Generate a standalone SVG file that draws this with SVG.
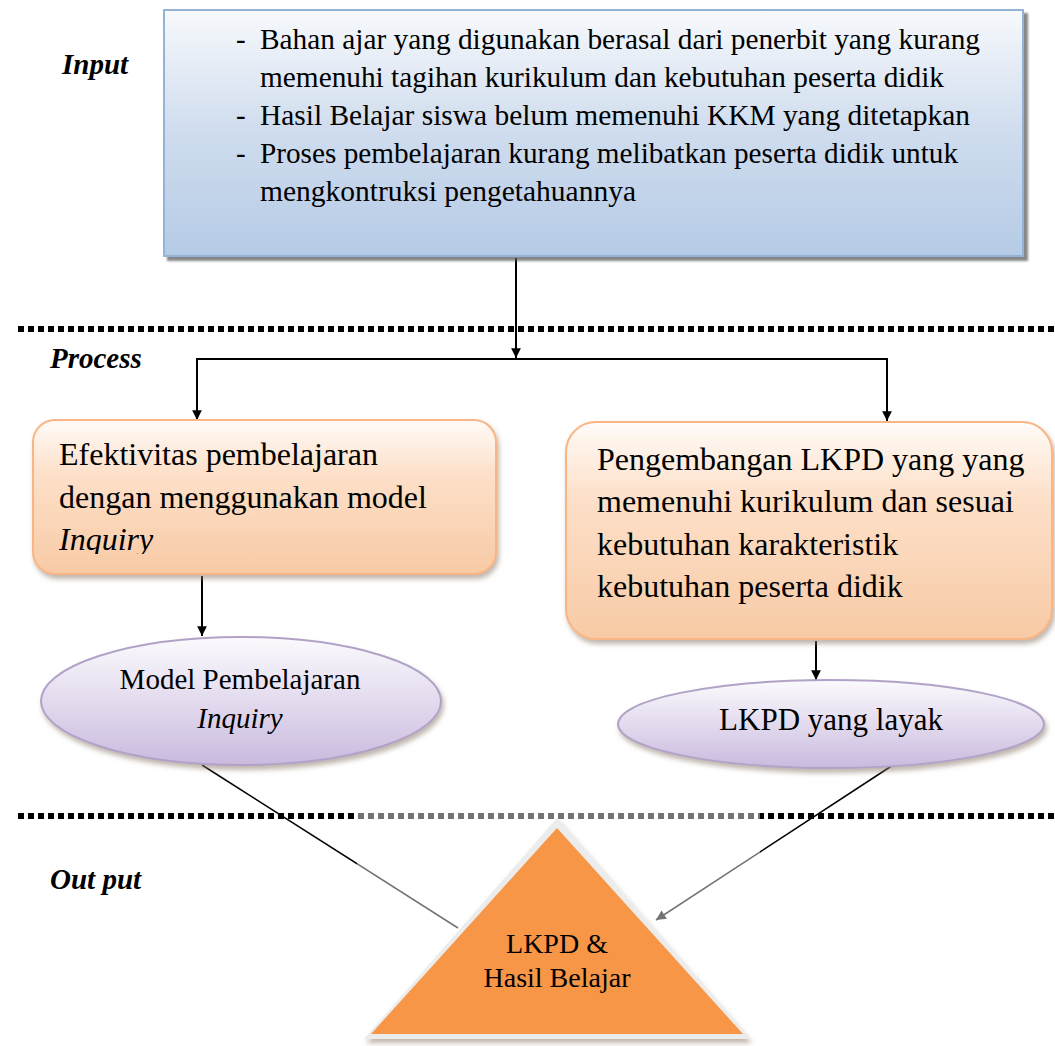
<svg xmlns="http://www.w3.org/2000/svg" width="1055" height="1046" viewBox="0 0 1055 1046">
<defs>
<style>
.t{font-family:"Liberation Serif","Times New Roman",serif;fill:#000}
.lbl{font-family:"Liberation Serif","Times New Roman",serif;font-weight:bold;font-style:italic;font-size:29px}
.c{stroke:#000;stroke-width:2;fill:none}
.dash{stroke:#000;stroke-width:6;stroke-dasharray:6 4}
</style>
<linearGradient id="gBlue" x1="0" y1="0" x2="0" y2="1">
<stop offset="0" stop-color="#f7f9fc"/>
<stop offset="0.5" stop-color="#cfdcee"/>
<stop offset="1" stop-color="#b5cbe6"/>
</linearGradient>
<linearGradient id="gOr" x1="0" y1="0" x2="0" y2="1">
<stop offset="0" stop-color="#fffbf8"/>
<stop offset="0.35" stop-color="#fde0c9"/>
<stop offset="1" stop-color="#f8caa5"/>
</linearGradient>
<linearGradient id="gPu" x1="0" y1="0" x2="0" y2="1">
<stop offset="0" stop-color="#fbfafd"/>
<stop offset="0.5" stop-color="#e3dbee"/>
<stop offset="1" stop-color="#c9badf"/>
</linearGradient>
<filter id="sh" x="-10%" y="-10%" width="120%" height="130%">
<feDropShadow dx="2" dy="4" stdDeviation="2.5" flood-color="#8a7a6a" flood-opacity="0.55"/>
</filter>
<filter id="shb" x="-10%" y="-10%" width="120%" height="130%">
<feDropShadow dx="4" dy="4" stdDeviation="1" flood-color="#555" flood-opacity="0.7"/>
</filter>
<marker id="ah" viewBox="0 0 10 10" refX="10" refY="5" markerWidth="7" markerHeight="7" markerUnits="userSpaceOnUse" orient="auto" overflow="visible">
<path d="M0,0 L10,5 L0,10 z" fill="#000" transform="scale(1.4)" transform-origin="10 5"/>
</marker>
<clipPath id="clipL"><rect x="33" y="420" width="464" height="134"/></clipPath>
</defs>

<g id="separators">
<line class="dash" x1="18" y1="329" x2="1055" y2="329"/>
<line class="dash" x1="18" y1="816" x2="1055" y2="816"/>
</g>

<g id="labels">
<text class="lbl" x="62" y="74">Input</text>
<text class="lbl" x="50" y="368">Process</text>
<text class="lbl" x="50" y="889">Out put</text>
</g>

<g id="connectors">
<line class="c" x1="516" y1="258" x2="516" y2="358" marker-end="url(#ah)"/>
<polyline class="c" points="197,420 197,359 887,359 887,421" marker-end="url(#ah)"/>
<line class="c" x1="197" y1="362" x2="197" y2="420" marker-end="url(#ah)"/>
<line class="c" x1="202" y1="576" x2="202" y2="636" marker-end="url(#ah)"/>
<line class="c" x1="816" y1="641" x2="816" y2="680" marker-end="url(#ah)"/>
<line stroke="#000" stroke-width="1.5" x1="202" y1="765" x2="458" y2="928"/>
<line stroke="#000" stroke-width="1.5" x1="893" y1="765" x2="656" y2="920" marker-end="url(#ah)"/>
</g>

<g id="input">
<rect x="164" y="10" width="859" height="246" fill="url(#gBlue)" stroke="#95b3d7" stroke-width="2" filter="url(#shb)"/>
<g class="t" font-size="29">
<text x="236" y="49">-</text>
<text x="260" y="49" textLength="720" lengthAdjust="spacingAndGlyphs">Bahan ajar yang digunakan berasal dari penerbit yang kurang</text>
<text x="260" y="87" textLength="684" lengthAdjust="spacingAndGlyphs">memenuhi tagihan kurikulum dan kebutuhan peserta didik</text>
<text x="236" y="125">-</text>
<text x="260" y="125" textLength="710" lengthAdjust="spacingAndGlyphs">Hasil Belajar siswa belum memenuhi KKM yang ditetapkan</text>
<text x="236" y="163">-</text>
<text x="260" y="163" textLength="698" lengthAdjust="spacingAndGlyphs">Proses pembelajaran kurang melibatkan peserta didik untuk</text>
<text x="260" y="201" textLength="376" lengthAdjust="spacingAndGlyphs">mengkontruksi pengetahuannya</text>
</g>
</g>

<g id="efektivitas">
<rect x="33" y="420" width="463" height="154" rx="22" fill="url(#gOr)" stroke="#fab584" stroke-width="2" filter="url(#sh)"/>
<g class="t" font-size="32">
<text x="59" y="465">Efektivitas pembelajaran</text>
<text x="59" y="508">dengan menggunakan model</text>
<text x="59" y="550" font-style="italic" clip-path="url(#clipL)">Inquiry</text>
</g>
</g>

<g id="pengembangan">
<rect x="566" y="422" width="486" height="217" rx="30" fill="url(#gOr)" stroke="#fab584" stroke-width="2" filter="url(#sh)"/>
<g class="t" font-size="32">
<text x="597" y="470">Pengembangan LKPD yang yang</text>
<text x="597" y="512">memenuhi kurikulum dan sesuai</text>
<text x="597" y="555">kebutuhan karakteristik</text>
<text x="597" y="597">kebutuhan peserta didik</text>
</g>
</g>

<g id="model">
<ellipse cx="241" cy="701" rx="200" ry="64" fill="url(#gPu)" stroke="#b3a2c7" stroke-width="2" filter="url(#sh)"/>
<g class="t" font-size="29" text-anchor="middle">
<text x="240" y="689">Model Pembelajaran</text>
<text x="240" y="728" font-style="italic">Inquiry</text>
</g>
</g>

<g id="lkpd-layak">
<ellipse cx="831" cy="724" rx="213" ry="44" fill="url(#gPu)" stroke="#b3a2c7" stroke-width="2" filter="url(#sh)"/>
<text class="t" font-size="31" x="831" y="730" text-anchor="middle">LKPD yang layak</text>
</g>

<rect x="357" y="812" width="403" height="234" fill="#fff" opacity="0.45"/>

<g id="output">
<polygon points="557,818 364,1039 750,1039" fill="#ececec" filter="url(#sh)"/>
<polygon points="557,828 371,1034 743,1034" fill="#f79646"/>
<g class="t" font-size="28" text-anchor="middle">
<text x="557" y="953">LKPD &amp;</text>
<text x="557" y="987">Hasil Belajar</text>
</g>
</g>
</svg>
